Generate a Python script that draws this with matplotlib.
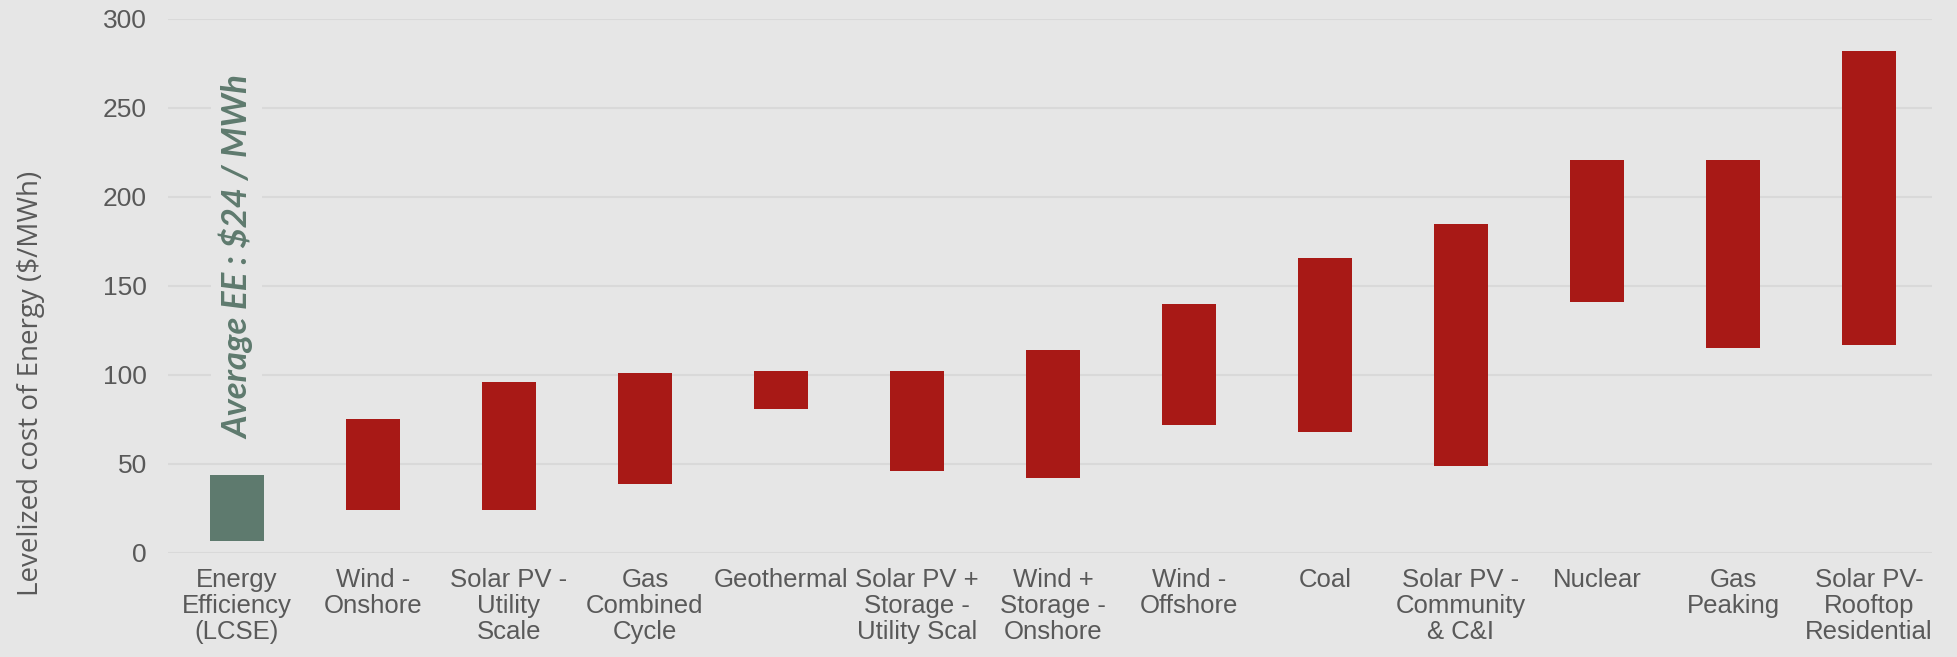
import matplotlib.pyplot as plt
import numpy as np

# Levelized cost ranges ($/MWh)
categories = [
    "Energy\nEfficiency\n(LCSE)", "Wind -\nOnshore", "Solar PV -\nUtility\nScale",
    "Gas\nCombined\nCycle", "Geothermal", "Solar PV +\nStorage -\nUtility Scal",
    "Wind +\nStorage -\nOnshore", "Wind -\nOffshore", "Coal",
    "Solar PV -\nCommunity\n& C&I", "Nuclear", "Gas\nPeaking",
    "Solar PV-\nRooftop\nResidential",
]
low = [7, 24, 24, 39, 81, 46, 42, 72, 68, 49, 141, 115, 117]
high = [44, 75, 96, 101, 102, 102, 114, 140, 166, 185, 221, 221, 282]
yticks = [0, 50, 100, 150, 200, 250, 300]

bg = '#e6e6e6'
red = '#a81916'
green = '#5e7a6e'
text_col = '#595959'

fig = plt.figure(figsize=(19.57, 6.57), dpi=100, facecolor=bg)
ax = fig.add_axes([0.0858, 0.1583, 0.9012, 0.8128])
ax.set_facecolor(bg)

x = np.arange(len(categories))
heights = np.array(high) - np.array(low)
colors = [green] + [red] * (len(categories) - 1)
ax.bar(x, heights, bottom=low, width=0.40, color=colors, linewidth=0, zorder=3)

ax.set_xlim(-0.507, 12.46)
ax.set_ylim(0, 300)
ax.set_yticks(yticks)
ax.set_xticks(x)
ax.set_xticklabels(categories, fontsize=18.5, color=text_col,
                   family='Liberation Sans', linespacing=1.1)
ax.tick_params(axis='x', length=0, pad=11)
ax.tick_params(axis='y', length=0, pad=15, labelsize=19, labelcolor=text_col)
for lab in ax.get_yticklabels():
    lab.set_family('Liberation Sans')

ax.grid(axis='y', color='#d9d9d9', linewidth=1.5, zorder=0)
for s in ax.spines.values():
    s.set_visible(False)

ax.set_ylabel("Levelized cost of Energy ($/MWh)", fontsize=20, color=text_col,
              family='Open Sans')
ax.yaxis.set_label_coords(-0.0696, 0.317)

ax.text(0, 166, "Average EE : $24 / MWh", rotation=90, ha='center', va='center',
        fontsize=25, fontweight='bold', style='italic', color=green, family='Lato',
        zorder=4, bbox=dict(facecolor=bg, edgecolor='none', pad=6))

fig.savefig('out.png', dpi=100, facecolor=bg)
